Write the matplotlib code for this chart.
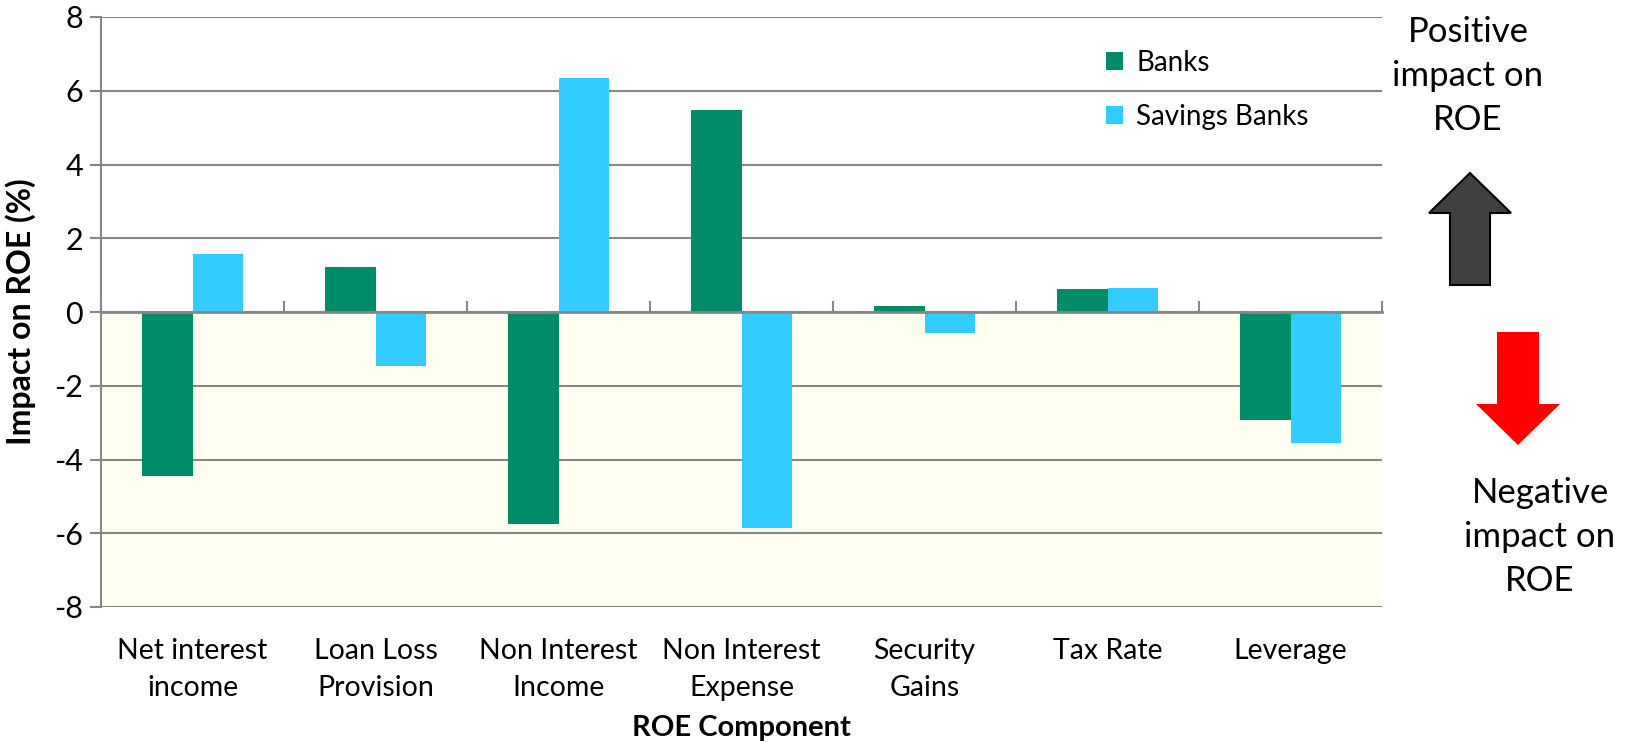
import matplotlib.pyplot as plt
import numpy as np
from matplotlib.patches import Polygon

categories = ["Net interest\nincome", "Loan Loss\nProvision", "Non Interest\nIncome",
              "Non Interest\nExpense", "Security\nGains", "Tax Rate", "Leverage"]
banks = [-4.45, 1.23, -5.75, 5.48, 0.16, 0.62, -2.92]
savings_banks = [1.56, -1.46, 6.35, -5.87, -0.56, 0.65, -3.55]

plt.rcParams['font.family'] = ['Lato', 'DejaVu Sans']
plt.rcParams['axes.unicode_minus'] = False

W, H = 1635, 742
fig = plt.figure(figsize=(W / 100, H / 100), dpi=100)
ax = fig.add_axes([101 / W, 1 - 607 / H, (1382 - 101) / W, (607 - 17) / H])

x = np.arange(len(categories))
bw = 0.275
grey = "#878787"

ax.axhspan(-8, 0, color="#fffff2", zorder=0)
ax.bar(x - bw / 2, banks, bw, color="#008c69", label="Banks", zorder=3)
ax.bar(x + bw / 2, savings_banks, bw, color="#33ccff", label="Savings Banks", zorder=3)

ax.set_xlim(-0.5, len(categories) - 0.5)
ax.set_ylim(-8, 8)
ax.set_yticks(np.arange(-8, 9, 2))
ax.yaxis.grid(True, color=grey, lw=1.5, zorder=1)
ax.set_axisbelow(True)

for s in ["top", "right", "bottom"]:
    ax.spines[s].set_visible(False)
ax.spines["left"].set_color(grey)
ax.spines["left"].set_linewidth(1.5)
ax.tick_params(axis="y", colors=grey, length=8, width=1.5, labelsize=22, labelcolor="black", pad=5)

ax.set_xticks(x)
ax.set_xticklabels(categories, fontsize=20.5, linespacing=1.55)
ax.tick_params(axis="x", length=0, pad=22)

# category axis drawn at zero
sec = ax.secondary_xaxis(0.5)
sec.set_xticks(np.arange(-0.5, len(categories), 1.0))
sec.set_xticklabels([])
sec.tick_params(axis="x", direction="out", length=8, width=1.5, colors=grey)
for s in sec.spines.values():
    s.set_color(grey)
    s.set_linewidth(2)
sec.set_zorder(4)

ax.set_ylabel("Impact on ROE (%)", fontsize=23, fontweight="bold", labelpad=13)
ax.set_xlabel("ROE Component", fontsize=21, fontweight="bold", labelpad=10)

ax.legend(loc="upper left", bbox_to_anchor=(1092 / W, 1 - 36 / H), bbox_transform=fig.transFigure,
          frameon=False, fontsize=20, handlelength=0.6, handleheight=0.6,
          handletextpad=0.5, labelspacing=1.0, borderpad=0)

# side annotations
fig.text(1468 / W, 1 - 76 / H, "Positive\nimpact on\nROE", ha="center", va="center",
         fontsize=25, linespacing=1.45)
fig.text(1540 / W, 1 - 537 / H, "Negative\nimpact on\nROE", ha="center", va="center",
         fontsize=25, linespacing=1.45)


def fig_poly(pts, **kw):
    pts = [(px / W, 1 - py / H) for px, py in pts]
    fig.add_artist(Polygon(pts, closed=True, transform=fig.transFigure, **kw))


fig_poly([(1470, 173), (1511, 213), (1490, 213), (1490, 285), (1450, 285), (1450, 213), (1429, 213)],
         facecolor="#404040", edgecolor="black", lw=1.5)
fig_poly([(1497, 332), (1539, 332), (1539, 404), (1560, 404), (1518, 445), (1476, 404), (1497, 404)],
         facecolor="#ff0000", edgecolor="none")

fig.savefig("out.png", dpi=100)
